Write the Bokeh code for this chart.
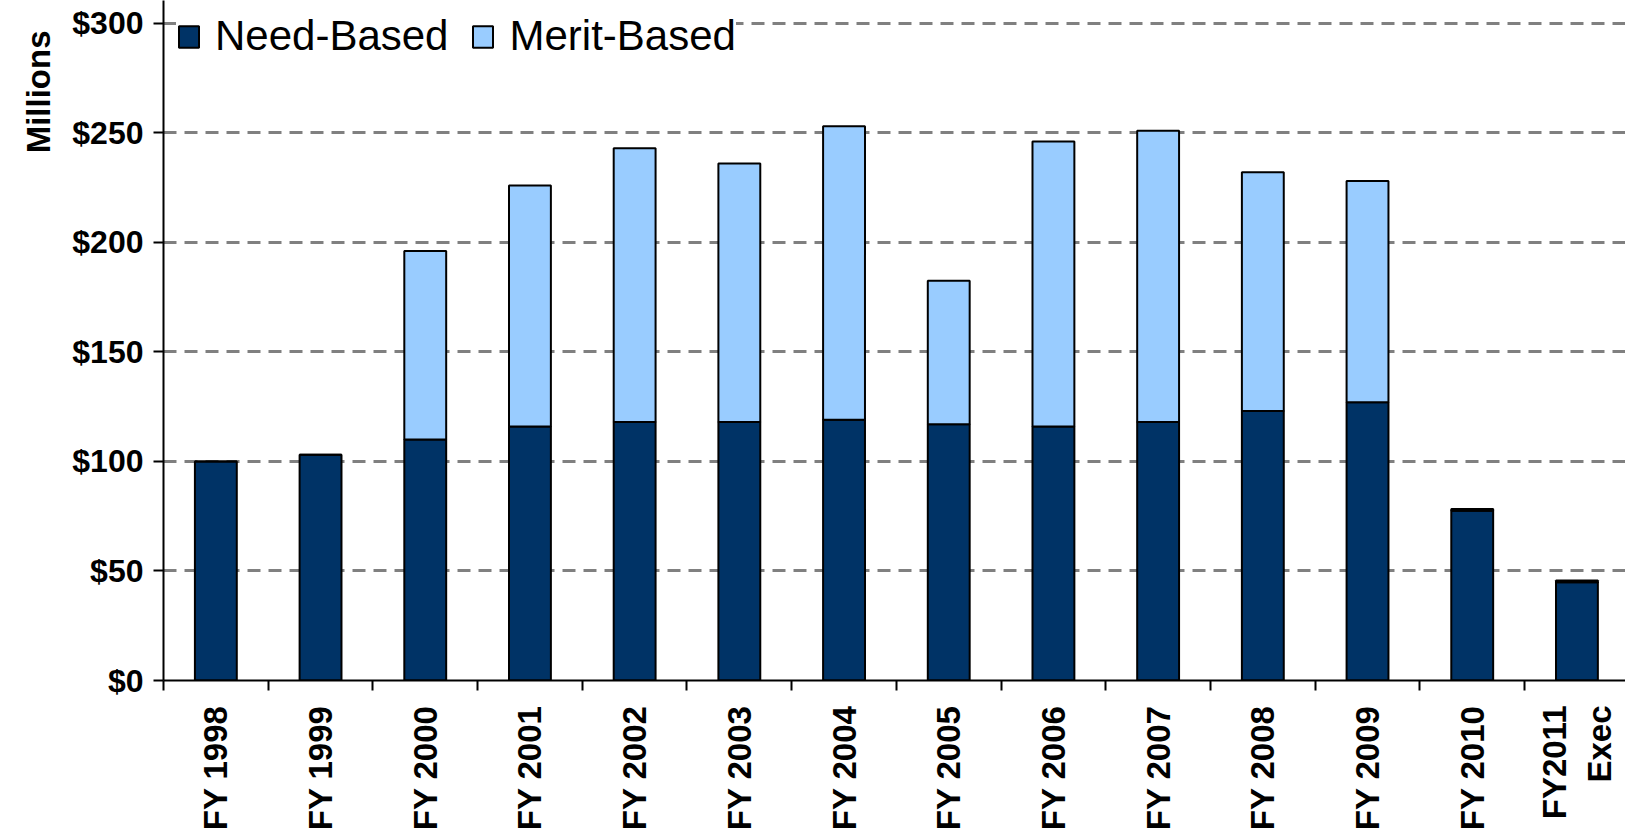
import math
from bokeh.plotting import figure
from bokeh.models import (ColumnDataSource, Range1d, FixedTicker, Legend,
                          LinearAxis, Title)
from bokeh.embed import file_html
from bokeh.resources import INLINE

categories = ["FY 1998", "FY 1999", "FY 2000", "FY 2001", "FY 2002", "FY 2003",
              "FY 2004", "FY 2005", "FY 2006", "FY 2007", "FY 2008", "FY 2009",
              "FY 2010", "FY2011\nExec"]
need_based = [100, 103, 110, 116, 118, 118, 119, 117, 116, 118, 123, 127, 77.5, 44.8]
merit_based = [0, 0, 86, 110, 125, 118, 134, 65.5, 130, 133, 109, 101, 0.8, 0.8]
y_ticks = [0, 50, 100, 150, 200, 250, 300]
y_tick_labels = ["$0", "$50", "$100", "$150", "$200", "$250", "$300"]
series_names = ["Need-Based", "Merit-Based"]
series_colors = ["#003366", "#99CCFF"]
y_title = "Millions"

FONT = "Liberation Sans"

n = len(categories)
source = ColumnDataSource(dict(
    x=[i + 0.5 for i in range(n)],
    need=need_based,
    merit=merit_based,
))

p = figure(width=1625, height=840, output_backend="svg", toolbar_location=None,
           x_range=Range1d(0, 13.964), y_range=Range1d(0, 310.4),
           min_border_left=163, min_border_right=0, min_border_top=0, min_border_bottom=160)
p.outline_line_color = None
p.background_fill_color = "white"
p.border_fill_color = "white"

renderers = p.vbar_stack(["need", "merit"], x="x", width=0.4, source=source,
                         fill_color=series_colors, line_color="black", line_width=2)

# y axis
p.yaxis.ticker = FixedTicker(ticks=y_ticks)
p.yaxis.major_label_overrides = {t: l for t, l in zip(y_ticks, y_tick_labels)}
p.yaxis.major_label_text_font = FONT
p.yaxis.major_label_text_font_style = "bold"
p.yaxis.major_label_text_font_size = "32px"
p.yaxis.major_label_text_color = "black"
p.yaxis.major_label_standoff = 10
p.yaxis.major_tick_out = 10
p.yaxis.major_tick_in = 0
p.yaxis.minor_tick_line_color = None
p.yaxis.axis_line_width = 2
p.yaxis.major_tick_line_width = 2
p.yaxis.axis_line_color = "black"

# x axis: ticks at category boundaries, no labels
p.xaxis.ticker = FixedTicker(ticks=list(range(n + 1)))
p.xaxis.major_label_overrides = {i: "" for i in range(n + 1)}
p.xaxis.major_label_text_font_size = "1px"
p.xaxis.major_label_standoff = 0
p.xaxis.major_tick_out = 10
p.xaxis.major_tick_in = 0
p.xaxis.minor_tick_line_color = None
p.xaxis.axis_line_width = 2
p.xaxis.major_tick_line_width = 2
p.xaxis.axis_line_color = "black"

# second x axis: category labels at bar centres
cat_axis = LinearAxis(ticker=FixedTicker(ticks=[i + 0.5 for i in range(n)]),
                      major_label_overrides={i + 0.5: c for i, c in enumerate(categories)},
                      major_label_orientation=math.pi / 2,
                      major_label_text_font=FONT, major_label_text_font_style="bold",
                      major_label_text_font_size="33px", major_label_text_color="black",
                      major_label_standoff=15, axis_line_color=None,
                      major_tick_line_color=None, minor_tick_line_color=None,
                      major_tick_out=0, major_tick_in=0)
p.add_layout(cat_axis, "below")

p.xgrid.grid_line_color = None
p.ygrid.grid_line_color = "#808080"
p.ygrid.grid_line_width = 3
p.ygrid.grid_line_dash = "13 8"

# y axis title, at the top of the left side
p.add_layout(Title(text=y_title, align="right", offset=30, standoff=26, text_font=FONT,
                   text_font_style="bold", text_font_size="33px", text_color="black"),
             "left")

legend = Legend(items=[(series_names[0], [renderers[0]]), (series_names[1], [renderers[1]])],
                location=(13, 620), orientation="horizontal",
                label_text_font=FONT, label_text_font_size="42px", label_text_color="black",
                glyph_width=25, glyph_height=27, label_standoff=14, spacing=22,
                padding=15, margin=0, label_height=40,
                background_fill_color="white", background_fill_alpha=1.0,
                border_line_color=None)
p.add_layout(legend)

open("out.html", "w").write(file_html(p, INLINE))
